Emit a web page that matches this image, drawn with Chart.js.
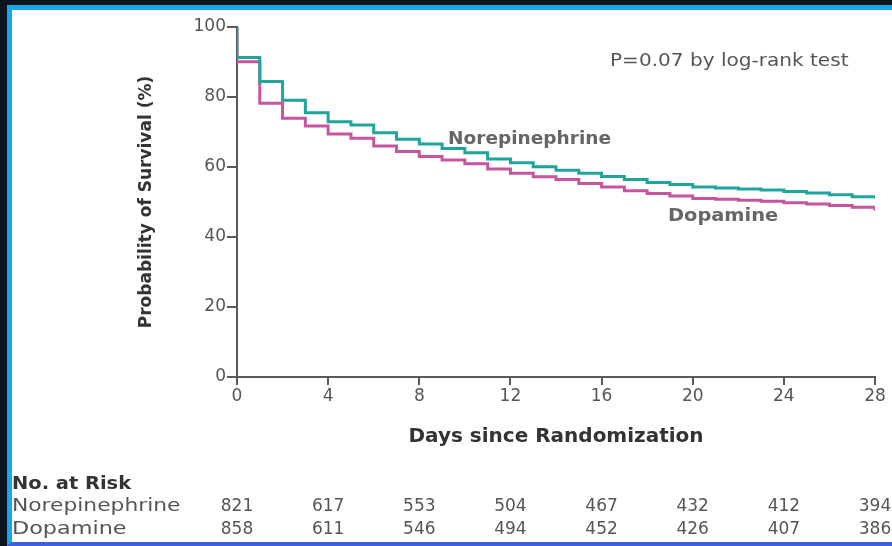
<!DOCTYPE html>
<html>
<head>
<meta charset="utf-8">
<script src="https://cdn.jsdelivr.net/npm/chart.js@4/dist/chart.umd.min.js"></script>
<style>
html, body { margin: 0; padding: 0; background: #0b141f; overflow: hidden; }
#frame {
    position: absolute; left: 7px; top: 5px; width: 885px; height: 541px;
    box-sizing: border-box; background: #fff;
    border-left: 5px solid #18a7ea; border-top: 5px solid #18a7ea; border-bottom: 4px solid #3f5fdc;
}
#wrap { position: absolute; left: 0; top: 0; width: 892px; height: 546px; }
</style>
</head>
<body>
<div id="frame"></div>
<div id="wrap"><canvas id="km"></canvas></div>
<script>
// Kaplan-Meier survival, value holds from that day until the next
const days = [0, 0, 1, 2, 3, 4, 5, 6, 7, 8, 9, 10, 11, 12, 13, 14, 15, 16, 17, 18, 19, 20, 21, 22, 23, 24, 25, 26, 27, 28];
const noreSurv = [100, 91.3, 84.4, 79.1, 75.5, 72.9, 72.0, 69.8, 67.9, 66.6, 65.3, 64.1, 62.3, 61.2, 60.1, 59.1, 58.2, 57.3, 56.4, 55.6, 55.0, 54.3, 54.0, 53.7, 53.4, 53.0, 52.6, 52.1, 51.5, 51.0];
const dopaSurv = [100, 90.1, 78.2, 73.9, 71.7, 69.4, 68.2, 66.0, 64.4, 63.0, 62.0, 60.9, 59.4, 58.2, 57.2, 56.4, 55.3, 54.3, 53.2, 52.4, 51.7, 51.0, 50.8, 50.5, 50.2, 49.8, 49.4, 49.0, 48.5, 47.5];

const xTicks = [0, 4, 8, 12, 16, 20, 24, 28];
const yTicks = [0, 20, 40, 60, 80, 100];
const riskNore = [821, 617, 553, 504, 467, 432, 412, 394];
const riskDopa = [858, 611, 546, 494, 452, 426, 407, 386];

const AXIS = "#5a5a5a";
const TEXT = "#555";
const FONT = "'DejaVu Sans', 'Open Sans', sans-serif";

// the source figure is stretched sideways, so its text is drawn a bit wide
function wideText(ctx, text, x, y, sx) {
    ctx.save();
    ctx.translate(x, y);
    ctx.scale(sx, 1);
    ctx.fillText(text, 0, 0);
    ctx.restore();
}

// outward tick marks; the grid ones did not always show up
const tickMarks = {
    id: "tickMarks",
    afterDraw(chart) {
        const ctx = chart.ctx;
        const { x, y } = chart.scales;
        const area = chart.chartArea;
        ctx.save();
        ctx.strokeStyle = AXIS;
        ctx.lineWidth = 2;
        ctx.beginPath();
        xTicks.forEach(v => {
            const px = Math.round(x.getPixelForValue(v));
            ctx.moveTo(px, area.bottom);
            ctx.lineTo(px, area.bottom + 8);
        });
        yTicks.forEach(v => {
            const py = Math.round(y.getPixelForValue(v));
            ctx.moveTo(area.left - 10, py);
            ctx.lineTo(area.left, py);
        });
        ctx.stroke();
        ctx.restore();
    }
};

// text that is not part of the axes: p-value, curve labels, numbers at risk
const annotations = {
    id: "annotations",
    afterDraw(chart) {
        const ctx = chart.ctx;
        const x = chart.scales.x;
        ctx.save();
        ctx.fillStyle = TEXT;
        ctx.textBaseline = "alphabetic";
        ctx.textAlign = "left";

        ctx.font = "17px " + FONT;
        wideText(ctx, "P=0.07 by log-rank test", 610, 66, 1.18);

        ctx.fillStyle = "#666";
        ctx.font = "bold 17px " + FONT;
        wideText(ctx, "Norepinephrine", 448, 144, 1.09);
        wideText(ctx, "Dopamine", 668, 221, 1.14);

        // risk table
        ctx.fillStyle = "#333";
        ctx.font = "bold 18px " + FONT;
        wideText(ctx, "No. at Risk", 12, 489, 1.08);
        ctx.fillStyle = TEXT;
        ctx.font = "18px " + FONT;
        wideText(ctx, "Norepinephrine", 12, 511, 1.21);
        wideText(ctx, "Dopamine", 12, 534, 1.24);
        ctx.font = "17px " + FONT;
        ctx.textAlign = "center";
        xTicks.forEach((d, i) => {
            const px = x.getPixelForValue(d);
            ctx.fillText(String(riskNore[i]), px, 511);
            ctx.fillText(String(riskDopa[i]), px, 534);
        });
        ctx.restore();
    }
};

new Chart(document.getElementById("km"), {
    type: "line",
    data: {
        datasets: [
            {
                label: "Norepinephrine",
                data: days.map((d, i) => ({ x: d, y: noreSurv[i] })),
                borderColor: "#1fa59b",
                borderWidth: 3,
                stepped: "before",
                pointRadius: 0,
                fill: false
            },
            {
                label: "Dopamine",
                data: days.map((d, i) => ({ x: d, y: dopaSurv[i] })),
                borderColor: "#c5569d",
                borderWidth: 3,
                stepped: "before",
                pointRadius: 0,
                fill: false
            }
        ]
    },
    options: {
        responsive: true,
        maintainAspectRatio: false,
        animation: false,
        layout: { padding: { left: 130, top: 27, right: 17, bottom: 97 } },
        plugins: { legend: { display: false }, tooltip: { enabled: false } },
        scales: {
            x: {
                type: "linear",
                min: 0, max: 28,
                afterBuildTicks: s => { s.ticks = xTicks.map(v => ({ value: v })); },
                afterFit: s => { s.height = 72; },
                ticks: { color: TEXT, font: { family: FONT, size: 17 }, padding: 1, maxRotation: 0, autoSkip: false },
                grid: { drawOnChartArea: false, drawTicks: true, tickLength: 8, color: AXIS, lineWidth: 2 },
                border: { color: AXIS, width: 2 },
                title: { display: true, text: "Days since Randomization", color: "#333",
                         font: { family: FONT, size: 20, weight: "bold" }, padding: 0 }
            },
            y: {
                min: 0, max: 100,
                afterBuildTicks: s => { s.ticks = yTicks.map(v => ({ value: v })); },
                afterFit: s => { s.width = 107; },
                ticks: { color: TEXT, font: { family: FONT, size: 17 }, padding: 1 },
                grid: { drawOnChartArea: false, drawTicks: true, tickLength: 10, color: AXIS, lineWidth: 2 },
                border: { color: AXIS, width: 2 },
                title: { display: true, text: "Probability of Survival (%)", color: "#333",
                         font: { family: FONT, size: 17, weight: "bold" }, padding: 6 }
            }
        }
    },
    plugins: [tickMarks, annotations]
});
</script>
</body>
</html>
